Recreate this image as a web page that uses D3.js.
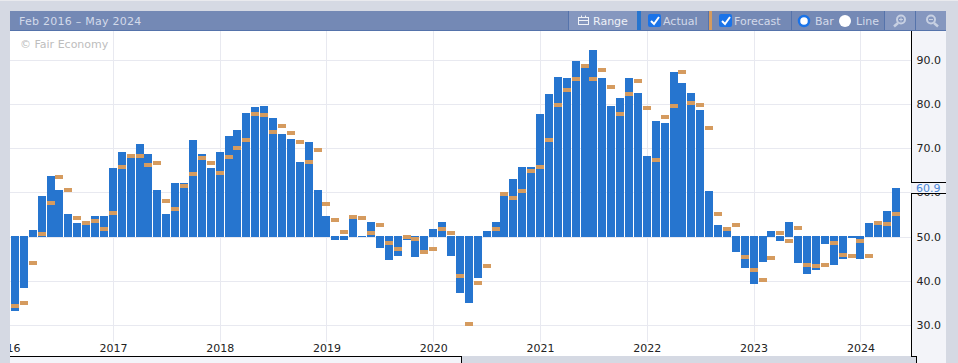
<!DOCTYPE html>
<html lang="en">

<head>
    <meta charset="utf-8">
    <script src="https://d3js.org/d3.v7.min.js"></script>
    <style>
        html, body { margin: 0; padding: 0; background: #d5d9e3; overflow: hidden; }
        svg { display: block; font-family: "DejaVu Sans", sans-serif; }
    </style>
</head>

<body>
    <script>
        // chart values, Feb 2016 to May 2024, one entry per month
        const actual = [
            33.2, 38.4, 51.5, 59.2, 63.7, 60.5, 55.1, 53.1, 52.6, 54.7, 54.7,
            65.5, 69.2, 67.8, 70.8, 68.7, 60.5, 55.1, 62.1, 62.1, 71.7, 68.7, 65.5,
            69.2, 72.8, 74.1, 78.0, 79.3, 79.5, 76.8, 73.2, 72.1, 66.9, 71.4, 60.6,
            54.7, 49.3, 49.1, 54.1, 50.2, 53.2, 47.5, 44.8, 45.7, 49.3, 45.3, 46.8,
            51.6, 53.2, 45.6, 37.3, 35.0, 40.7, 51.3, 53.3, 59.2, 62.9, 65.6, 65.6,
            77.7, 82.3, 86.1, 85.9, 89.7, 88.1, 92.2, 85.9, 79.5, 81.4, 85.9, 82.5,
            68.3, 76.2, 75.7, 87.2, 84.7, 82.5, 78.6, 60.2, 52.7, 51.3, 46.5, 42.9,
            39.2, 44.2, 51.2, 48.9, 53.2, 44.0, 41.5, 42.4, 48.3, 43.5, 44.9, 49.6,
            44.9, 53.0, 52.6, 55.7, 60.9
        ];
        const forecast = [
            34.4, 35.0, 44.1, 50.6, 57.6, 63.5, 60.5, 54.2, 53.1, 53.5, 51.7,
            55.3, 65.8, 68.3, 68.3, 66.2, 66.7, 58.0, 56.3, 61.4, 64.2, 67.8, 66.7,
            64.4, 68.0, 70.1, 71.9, 77.7, 77.5, 73.7, 75.0, 73.5, 71.4, 66.9, 69.6,
            57.4, 53.8, 51.1, 54.5, 54.1, 50.9, 52.5, 48.6, 47.1, 50.0, 49.5, 46.4,
            47.1, 51.6, 50.8, 41.1, 30.3, 39.5, 43.4, 51.7, 59.7, 58.8, 60.2, 64.7,
            65.8, 71.7, 79.8, 83.2, 85.6, 88.6, 85.6, 87.7, 83.8, 77.7, 82.3, 85.2,
            79.1, 67.4, 77.1, 79.5, 87.2, 80.2, 79.8, 74.6, 55.1, 51.8, 52.6, 45.3,
            42.4, 40.2, 45.1, 50.8, 48.9, 51.9, 43.5, 43.3, 43.5, 48.5, 45.8, 45.6,
            48.9, 45.6, 53.0, 52.8, 55.0
        ];
        const yearLabels = [2016, 2017, 2018, 2019, 2020, 2021, 2022, 2023, 2024];
        const yTicks = [30, 40, 50, 60, 70, 80, 90];
        const midLine = 50;
        const lastValue = 60.9;

        const width = 958;
        const height = 363;
        const gray = "#d5d9e3";
        const panel = "#f3f4f9";
        const headerBg = "#7489b5";
        const headerBtn = "#8597bf";
        const headerLine = "#5573ab";
        const headerText = "#d3daea";
        const gridColor = "#e8e9f0";
        const barColor = "#2675cf";
        const markColor = "#d59b5f";
        const plotLeft = 10, plotRight = 911.5, plotTop = 31, plotBottom = 356;

        const svg = d3.select("body").append("svg")
            .attr("width", width)
            .attr("height", height);

        // page frame
        svg.append("rect").attr("width", width).attr("height", height).attr("fill", gray);
        svg.append("rect").attr("width", width).attr("height", 1).attr("fill", "#e9eaee");
        svg.append("rect").attr("x", plotLeft).attr("y", plotTop)
            .attr("width", plotRight - plotLeft).attr("height", plotBottom - plotTop).attr("fill", "white");
        svg.append("rect").attr("x", 912).attr("y", plotTop)
            .attr("width", 34).attr("height", height - plotTop).attr("fill", panel);
        svg.append("rect").attr("x", plotLeft).attr("y", 357)
            .attr("width", 451).attr("height", 6).attr("fill", panel);
        svg.append("rect").attr("x", 462).attr("y", 357)
            .attr("width", 450).attr("height", 6).attr("fill", gray);
        svg.append("rect").attr("x", 912).attr("y", 357)
            .attr("width", 5).attr("height", 6).attr("fill", gray);

        // scales: x runs on the month number, 0 is Feb 2016
        const x = d3.scaleLinear().domain([0, actual.length - 1]).range([15, 896]);
        const y = d3.scaleLinear().domain([30, 90]).range([325, 59.5]);
        const yearMonth = d => (d - 2016) * 12 - 1;

        svg.append("clipPath").attr("id", "plot-clip").append("rect")
            .attr("x", plotLeft).attr("y", plotTop)
            .attr("width", plotRight - plotLeft).attr("height", plotBottom - plotTop);

        // horizontal grid and right axis labels
        const yAxis = svg.append("g")
            .attr("transform", "translate(" + plotRight + ",0)")
            .call(d3.axisRight(y).tickValues(yTicks).tickFormat(d3.format(".1f"))
                .tickSize(plotLeft - plotRight).tickPadding(5));
        yAxis.select(".domain").remove();
        yAxis.selectAll("line").attr("stroke", gridColor).attr("shape-rendering", "crispEdges");
        yAxis.selectAll("text").attr("fill", "#222").style("font-size", "11px").attr("font-family", "DejaVu Sans");

        // vertical grid and year labels
        const xAxis = svg.append("g")
            .attr("clip-path", "url(#plot-clip)")
            .append("g")
            .attr("transform", "translate(0,341.5)")
            .call(d3.axisBottom(x).tickValues(yearLabels.map(yearMonth)).tickFormat((d, i) => yearLabels[i])
                .tickSize(plotTop - 341.5).tickPadding(3));
        xAxis.select(".domain").remove();
        xAxis.selectAll("line").attr("stroke", gridColor).attr("shape-rendering", "crispEdges");
        xAxis.selectAll("text").attr("y", 3).attr("fill", "#222").style("font-size", "11px").attr("font-family", "DejaVu Sans");

        // bars start at the 50 line
        const plot = svg.append("g").attr("shape-rendering", "crispEdges");
        plot.selectAll(".bar")
            .data(actual)
            .enter()
            .append("rect")
            .attr("class", "bar")
            .attr("x", (d, i) => Math.round(x(i)) - 4)
            .attr("y", d => d >= midLine ? y(d) : y(midLine) - 0.5)
            .attr("width", 8)
            .attr("height", d => Math.abs(y(d) - y(midLine)) + 0.5)
            .attr("fill", barColor);

        plot.selectAll(".mark")
            .data(forecast)
            .enter()
            .append("rect")
            .attr("class", "mark")
            .attr("x", (d, i) => Math.round(x(i)) - 4)
            .attr("y", d => Math.round(y(d) - 2))
            .attr("width", 8)
            .attr("height", 4)
            .attr("fill", markColor);

        svg.append("text").attr("x", 20).attr("y", 48)
            .attr("fill", "#bdbdbd").style("font-size", "11px")
            .text("\u00a9 Fair Economy");

        // axis frame, open where the value tag sits
        const frame = svg.append("g").attr("fill", "none").attr("stroke", "black").attr("shape-rendering", "crispEdges");
        frame.append("path").attr("d", "M911.5,31V182.5");
        frame.append("path").attr("d", "M911.5,193.5V356.5H916.5V363");
        frame.append("path").attr("d", "M10,356.5H461.5V363");

        // value tag for the latest month
        svg.append("rect").attr("x", 912).attr("y", 183).attr("width", 34).attr("height", 10).attr("fill", panel);
        frame.append("path").attr("d", "M911,182.5H946");
        frame.append("path").attr("d", "M911,193.5H946");
        svg.append("text").attr("x", 916).attr("y", 192)
            .attr("fill", "#4a86d8").style("font-size", "11px")
            .text(d3.format(".1f")(lastValue));

        // header bar
        const head = svg.append("g");
        head.append("rect").attr("x", 10).attr("y", 11).attr("width", 936).attr("height", 20).attr("fill", headerBg);
        head.append("rect").attr("x", 10).attr("y", 30).attr("width", 936).attr("height", 1).attr("fill", headerLine);
        head.append("text").attr("x", 19).attr("y", 25).attr("fill", headerText)
            .style("font-size", "11px").style("letter-spacing", "0.25px").text("Feb 2016 \u2013 May 2024");

        head.append("rect").attr("x", 569).attr("y", 11).attr("width", 68).attr("height", 19).attr("fill", headerBtn);
        head.append("rect").attr("x", 884).attr("y", 11).attr("width", 62).attr("height", 19).attr("fill", headerBtn);
        [568, 708, 791, 884, 915].forEach(d => {
            head.append("rect").attr("x", d).attr("y", 11).attr("width", 1).attr("height", 19).attr("fill", headerLine);
        });

        // range button
        const cal = head.append("g").attr("fill", "none").attr("stroke", "#eef1f7");
        cal.append("rect").attr("x", 578.5).attr("y", 17.5).attr("width", 10).attr("height", 7);
        cal.append("path").attr("d", "M578.5,20.5H588.5M581.5,15.5V17.5M585.5,15.5V17.5");
        head.append("text").attr("x", 593).attr("y", 25).attr("fill", "#eef1f7").style("font-size", "11px").text("Range");

        head.append("rect").attr("x", 637).attr("y", 11).attr("width", 4).attr("height", 19).attr("fill", barColor);
        head.append("rect").attr("x", 709).attr("y", 11).attr("width", 3).attr("height", 19).attr("fill", markColor);

        // checkboxes
        [[648, "Actual", 663], [719, "Forecast", 734]].forEach(d => {
            head.append("rect").attr("x", d[0]).attr("y", 14).attr("width", 13).attr("height", 13).attr("rx", 2).attr("fill", "#1a73e8");
            head.append("path")
                .attr("d", "M" + (d[0] + 3) + ",21 l3,3 l5,-7")
                .attr("fill", "none").attr("stroke", "white").attr("stroke-width", 2);
            head.append("text").attr("x", d[2]).attr("y", 25).attr("fill", headerText).style("font-size", "11px").text(d[1]);
        });

        // radio buttons
        head.append("circle").attr("cx", 804).attr("cy", 21).attr("r", 5)
            .attr("fill", "white").attr("stroke", "#1a73e8").attr("stroke-width", 2.5);
        head.append("text").attr("x", 815).attr("y", 25).attr("fill", headerText).style("font-size", "11px").text("Bar");
        head.append("circle").attr("cx", 845).attr("cy", 21).attr("r", 6).attr("fill", "white");
        head.append("text").attr("x", 856).attr("y", 25).attr("fill", headerText).style("font-size", "11px").text("Line");

        // zoom icons
        [[901, true], [931, false]].forEach(d => {
            const icon = head.append("g").attr("fill", "none").attr("stroke", "#c7d0e2");
            icon.append("circle").attr("cx", d[0]).attr("cy", 19.5).attr("r", 4).attr("stroke-width", 2);
            icon.append("path").attr("stroke-width", 2.5)
                .attr("d", d[1] ? "M" + (d[0] - 3) + ",23 l-4,3.5" : "M" + (d[0] + 3) + ",23 l4,3.5");
            icon.append("path").attr("d", d[1]
                ? "M" + (d[0] - 2) + ",19.5 h4 M" + d[0] + ",17.5 v4"
                : "M" + (d[0] - 2) + ",19.5 h4");
        });
    </script>
</body>

</html>
